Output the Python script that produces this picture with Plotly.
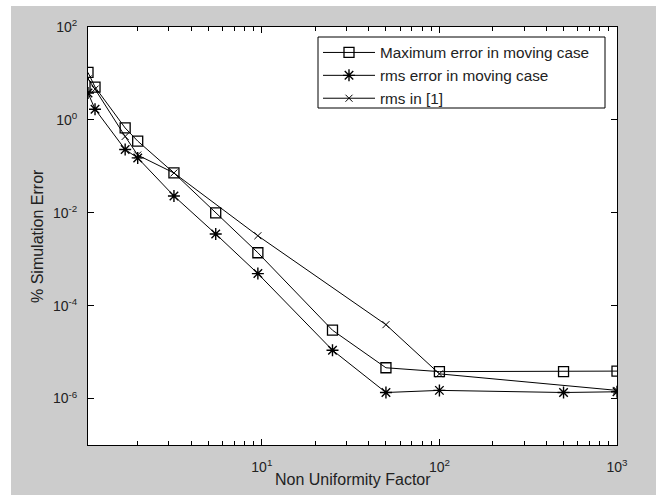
import math
import plotly.graph_objects as go

# ---- data ----
nuf = [1.05, 1.15, 1.7, 2.0, 3.2, 5.5, 9.5, 25, 50, 100, 500, 1000]
max_err_moving = [10.5, 5.1, 0.67, 0.35, 0.072, 0.0100, 0.00138, 2.96e-5, 4.6e-6, 3.8e-6, 3.8e-6, 3.9e-6]
rms_err_moving = [3.8, 1.7, 0.23, 0.152, 0.023, 0.0035, 4.9e-4, 1.1e-5, 1.35e-6, 1.5e-6, 1.35e-6, 1.4e-6]

nuf_ref1 = [1.05, 1.15, 1.7, 2.0, 3.2, 9.5, 50, 100, 1000]
rms_ref1 = [7.6, 4.6, 0.44, 0.175, 0.072, 0.0032, 3.9e-5, 3.4e-6, 1.5e-6]

series_names = ["Maximum error in moving case", "rms error in moving case", "rms in [1]"]

x_major_vals = [10, 100, 1000]
x_major_text = ["10<sup>1</sup>", "10<sup>2</sup>", "10<sup>3</sup>"]
x_minor_vals = [2, 3, 4, 5, 6, 7, 8, 9, 20, 30, 40, 50, 60, 70, 80, 90,
                200, 300, 400, 500, 600, 700, 800, 900]
y_major_vals = [1e-6, 1e-4, 1e-2, 1, 100]
y_major_text = ["10<sup>-6</sup>", "10<sup>-4</sup>", "10<sup>-2</sup>", "10<sup>0</sup>", "10<sup>2</sup>"]

x_title = "Non Uniformity Factor"
y_title = "% Simulation Error"

# ---- layout geometry ----
W, H = 659, 495
L, R, T, B = 88, 617, 27, 445
FONT = "Liberation Sans, Arial, Helvetica, sans-serif"
GRAY = "#cccccc"
TXT = "#222222"

def px2x(px):
    return (px - L) / (R - L)

def py2y(py):
    return (B - py) / (B - T)

fig = go.Figure()
fig.add_trace(go.Scatter(
    x=nuf, y=max_err_moving, name=series_names[0], mode="lines+markers",
    line=dict(color="black", width=1),
    marker=dict(symbol="square-open", size=10, color="black", line=dict(width=1.3, color="black")),
))
fig.add_trace(go.Scatter(
    x=nuf, y=rms_err_moving, name=series_names[1], mode="lines+markers",
    line=dict(color="black", width=1),
    marker=dict(symbol="asterisk-open", size=10, color="black", line=dict(width=1.4, color="black")),
))
fig.add_trace(go.Scatter(
    x=nuf_ref1, y=rms_ref1, name=series_names[2], mode="lines+markers",
    line=dict(color="black", width=1),
    marker=dict(symbol="x-thin-open", size=7, color="black", line=dict(width=1, color="black")),
))

fig.update_xaxes(
    type="log", range=[math.log10(nuf[0]), 3], automargin=False,
    tickmode="array", tickvals=x_major_vals, ticktext=x_major_text,
    ticks="inside", ticklen=6, tickcolor="black", tickwidth=1,
    minor=dict(tickmode="array", tickvals=x_minor_vals, ticks="inside", ticklen=4,
               tickcolor="black", tickwidth=1, showgrid=False),
    showline=True, linecolor="black", linewidth=1, mirror="ticks",
    showgrid=False, zeroline=False,
    tickfont=dict(family=FONT, size=14, color=TXT),
    ticklabelstandoff=9,
)
fig.update_yaxes(
    type="log", range=[-7, 2], automargin=False,
    tickmode="array", tickvals=y_major_vals, ticktext=y_major_text,
    ticks="inside", ticklen=6, tickcolor="black", tickwidth=1,
    showline=True, linecolor="black", linewidth=1, mirror="ticks",
    showgrid=False, zeroline=False,
    tickfont=dict(family=FONT, size=14, color=TXT),
    ticklabelposition="outside", ticklabelstandoff=7,
)

shapes = [
    # white borders around the gray MATLAB figure area
    dict(type="rect", xref="paper", yref="paper", layer="below",
         x0=px2x(0), x1=px2x(11), y0=py2y(H), y1=py2y(0), fillcolor="white", line=dict(width=0)),
    dict(type="rect", xref="paper", yref="paper", layer="below",
         x0=px2x(0), x1=px2x(W), y0=py2y(6), y1=py2y(0), fillcolor="white", line=dict(width=0)),
    dict(type="rect", xref="paper", yref="paper", layer="below",
         x0=px2x(656), x1=px2x(W), y0=py2y(H), y1=py2y(0), fillcolor="white", line=dict(width=0)),
    # legend box
    dict(type="rect", xref="paper", yref="paper", layer="above",
         x0=px2x(318), x1=px2x(605), y0=py2y(108), y1=py2y(37),
         fillcolor="white", line=dict(width=1, color="black")),
]

annotations = [
    dict(text=x_title, xref="paper", yref="paper", x=px2x((L + R) / 2), y=py2y(479),
         xanchor="center", yanchor="middle", showarrow=False,
         font=dict(family=FONT, size=16, color=TXT)),
    dict(text=y_title, xref="paper", yref="paper", x=px2x(37), y=py2y((T + B) / 2),
         xanchor="center", yanchor="middle", showarrow=False, textangle=-90,
         font=dict(family=FONT, size=16, color=TXT)),
]

fig.update_layout(
    width=W, height=H,
    margin=dict(l=L, r=W - R, t=T, b=H - B, pad=0, autoexpand=False),
    paper_bgcolor=GRAY, plot_bgcolor="white",
    font=dict(family=FONT, color=TXT),
    shapes=shapes,
    annotations=annotations,
    showlegend=True,
    legend=dict(
        x=px2x(318), y=py2y(36), xanchor="left", yanchor="top",
        bgcolor="rgba(0,0,0,0)", borderwidth=0,
        font=dict(family=FONT, size=15.3, color=TXT),
        itemwidth=52, tracegroupgap=0,
    ),
)

fig.write_html(
    "out.html",
    config={"displayModeBar": False},
    post_script="document.body.style.margin='0';document.body.style.padding='0';",
)
